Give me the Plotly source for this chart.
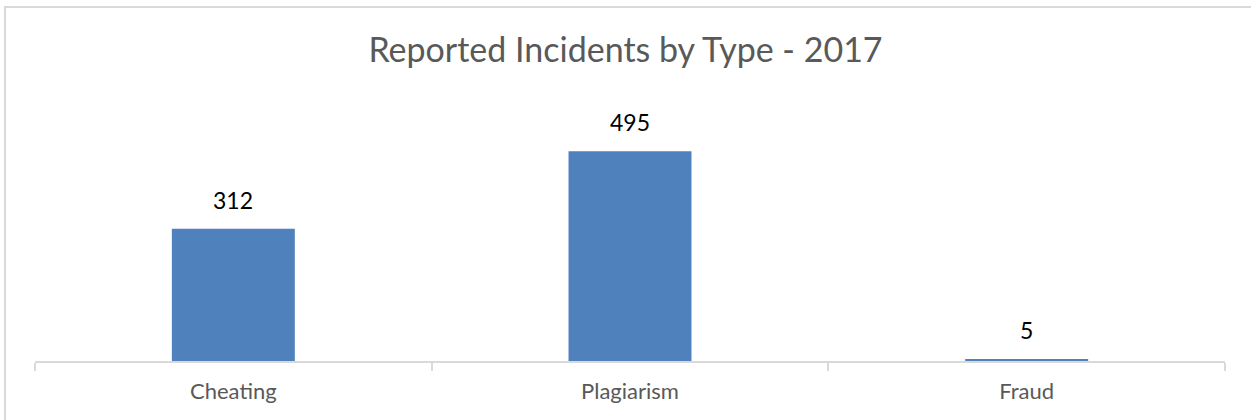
import plotly.graph_objects as go

# Incident counts reported in 2017
categories = ["Cheating", "Plagiarism", "Fraud"]
incidents = [312, 495, 5]

BAR_BLUE = "#4F81BD"
GRID_GRAY = "#D9D9D9"
TEXT_GRAY = "#595959"
FONT = "Lato, 'Open Sans', sans-serif"

fig = go.Figure(
    go.Bar(
        x=categories,
        y=incidents,
        marker=dict(color=BAR_BLUE, line=dict(width=0)),
        hoverinfo="x+y",
    )
)

# Value labels above each bar
for cat, val in zip(categories, incidents):
    fig.add_annotation(
        x=cat, y=val, text=str(val), showarrow=False,
        yanchor="bottom", yshift=13,
        font=dict(family=FONT, size=23, color="#000000"),
    )

# Outer chart frame
fig.add_shape(
    type="rect", xref="paper", yref="paper",
    x0=-0.0252, x1=1.2, y0=-0.5, y1=1.4048,
    line=dict(color=GRID_GRAY, width=2), fillcolor="rgba(0,0,0,0)",
    layer="below",
)

fig.update_layout(
    width=1251, height=420,
    margin=dict(l=35, r=26, t=109, b=59),
    paper_bgcolor="white", plot_bgcolor="white",
    bargap=0.69,
    showlegend=False,
    title=dict(
        text="Reported Incidents by Type - 2017",
        x=0.5, xanchor="center", y=0.88, yanchor="middle",
        font=dict(family=FONT, size=34, color=TEXT_GRAY),
    ),
    xaxis=dict(
        showline=True, linecolor=GRID_GRAY, linewidth=2,
        ticks="outside", tickson="boundaries", ticklen=8,
        tickcolor=GRID_GRAY, tickwidth=2,
        tickfont=dict(family=FONT, size=22, color=TEXT_GRAY),
        ticklabelstandoff=10,
        showgrid=False, zeroline=False,
    ),
    yaxis=dict(
        range=[0, 595], visible=False, showgrid=False, zeroline=False,
    ),
)

fig.write_html("out.html")
